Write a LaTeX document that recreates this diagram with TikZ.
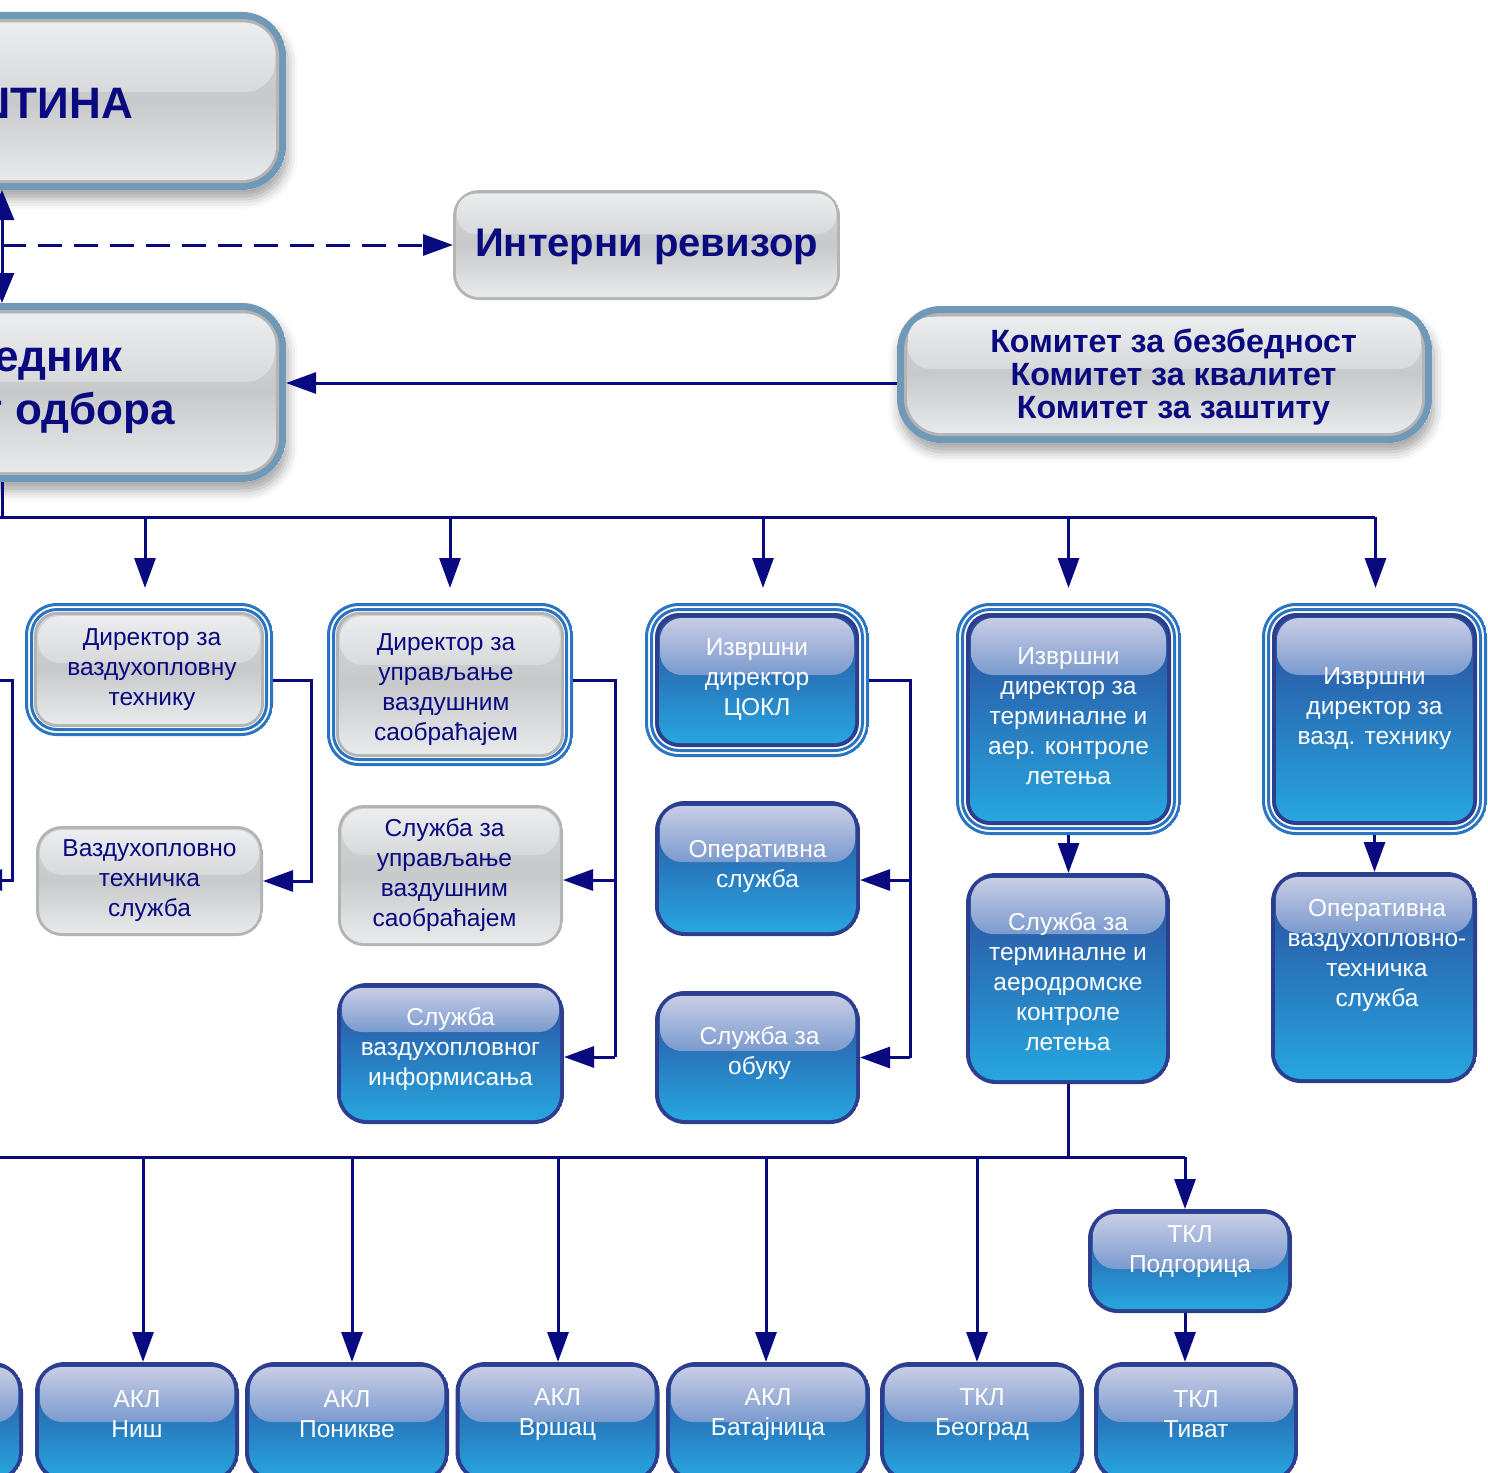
\documentclass[tikz,border=0pt]{standalone}
\usepackage{fontspec}
\setmainfont{Liberation Sans}
\usetikzlibrary{arrows.meta,calc,shadows.blur}

\definecolor{ink}{HTML}{0A0A80}
\definecolor{steel}{HTML}{7099B7}
\definecolor{dbl}{HTML}{2A74C2}
\definecolor{bbord}{HTML}{2D3E8F}
\definecolor{btop}{HTML}{2A4C9C}
\definecolor{bbot}{HTML}{27A6DF}
\definecolor{bhltop}{HTML}{C8CDE5}
\definecolor{bhlbot}{HTML}{7A9ACE}
\definecolor{gtop}{HTML}{D2D3D5}
\definecolor{gmid}{HTML}{C8C9CB}
\definecolor{gbot}{HTML}{E9EAEB}
\definecolor{ghltop}{HTML}{ECEDEE}
\definecolor{ghlbot}{HTML}{D8D9DB}
\definecolor{gbord}{HTML}{B3B4B6}

\newcommand\FtSmall{\fontsize{24.5pt}{30pt}\selectfont}
\newcommand\FtBig{\fontsize{44pt}{53pt}\selectfont\bfseries}
\newcommand\FtRev{\fontsize{40pt}{48pt}\selectfont\bfseries}
\newcommand\FtKom{\fontsize{32.2pt}{33pt}\selectfont\bfseries}

\def\hlh{55}
\def\hlr{22pt}
\newcommand\RR[3]{\path[rounded corners=#2pt,#3]
  ([xshift=#1pt,yshift=-#1pt]path picture bounding box.north west) rectangle
  ([xshift=-#1pt,yshift=#1pt]path picture bounding box.south east);}
\newcommand\HL[2]{\path[rounded corners=\hlr,#2]
  ([xshift=#1pt,yshift=-#1pt]path picture bounding box.north west) rectangle
  ([xshift=-#1pt,yshift={-(#1+\hlh)*1pt}]path picture bounding box.north east);}

\tikzset{
  hl/.code={\def\hlh{#1}},
  hlr/.code={\def\hlr{#1pt}},
  bshade/.style={top color=btop,bottom color=bbot},
  bhl/.style={top color=bhltop,bottom color=bhlbot},
  gshade/.style={top color=gtop,bottom color=gbot,middle color=gmid},
  ghl/.style={top color=ghltop,bottom color=ghlbot},
  basebox/.style={rectangle, inner sep=0pt, outer sep=0pt, fill=white},
  bbox/.style={basebox, rounded corners=30pt,
    path picture={\RR{0}{30}{fill=bbord}\RR{4}{26}{bshade}\HL{5}{bhl}}},
  b2box/.style={basebox, rounded corners=34pt,
    path picture={\RR{1.5}{32.5}{draw=dbl,line width=3pt}\RR{6.5}{27.5}{draw=dbl,line width=3pt}%
      \RR{10}{24}{fill=bbord}\RR{14}{20}{bshade}\HL{15}{bhl}}},
  gbox/.style={basebox, rounded corners=26pt,
    path picture={\RR{0}{26}{fill=gbord}\RR{3}{23}{gshade}\HL{4}{ghl}}},
  g2box/.style={basebox, rounded corners=32pt,
    path picture={\RR{1.5}{30.5}{draw=dbl,line width=3pt}\RR{6.5}{25.5}{draw=dbl,line width=3pt}%
      \RR{9}{23}{fill=gbord}\RR{12}{20}{gshade}\HL{13}{ghl}}},
  sbox/.style={basebox, rounded corners=44pt,
    path picture={\RR{0}{44}{fill=steel}\RR{7}{37}{fill=gbord}\RR{10}{34}{gshade}\HL{11}{ghl}}},
  shadowed/.style={blur shadow={shadow xshift=2pt, shadow yshift=-9pt, shadow blur radius=10pt, shadow opacity=35}},
  line/.style={draw=ink, line width=3pt},
  arr/.style={line, -{Triangle[length=30pt,width=21pt]}},
  wt/.style={text=white, align=center, inner sep=0pt, font=\FtSmall},
  nt/.style={text=ink, align=center, inner sep=0pt, font=\FtSmall},
  bigt/.style={text=ink, inner sep=0pt, font=\FtBig},
}

\begin{document}
\begin{tikzpicture}[x=1pt,y=-1pt]
\useasboundingbox (0,0) rectangle (1488,1472);
\clip (0,0) rectangle (1488,1472);

% ---- top level boxes
\node[sbox, shadowed, hl=69, hlr=30, minimum width=568pt, minimum height=178pt] (sk) at (2,101) {};
\node[bigt, anchor=base east] (skt) at (133,118) {ШТИНА};
\node[sbox, shadowed, hl=68, hlr=30, minimum width=568pt, minimum height=179pt] (pred) at (2,392.5) {};
\node[bigt, anchor=base east] (pred1) at (122.5,371) {едник};
\node[bigt, anchor=base east] (pred2) at (175,424) {г одбора};
\node[gbox, hl=40, hlr=18, minimum width=387pt, minimum height=110pt] (int) at (646.5,245) {};
\node[text=ink, inner sep=0pt, font=\FtRev] (intt) at ([yshift=-2pt]int.center) {Интерни ревизор};
\node[sbox, shadowed, hl=52, minimum width=535pt, minimum height=137pt] (kom) at (1164.5,374.5) {};
\node[text=ink, align=center, inner sep=0pt, font=\FtKom] (komt) at ([xshift=9pt,yshift=-3pt]kom.center)
  {Комитет за безбедност\\Комитет за квалитет\\Комитет за заштиту};

% ---- directors
\node[g2box, hl=47, minimum width=248pt, minimum height=133pt] (d1) at (149,669.5) {};
\node[nt] (d1t) at ([xshift=3pt]d1.center) {Директор за\\ваздухопловну\\технику};
\node[g2box, hl=49, minimum width=246pt, minimum height=163pt] (d2) at (450,684.5) {};
\node[nt] (d2t) at ([xshift=-4pt,yshift=-5.5pt]d2.center) {Директор за\\управљање\\ваздушним\\саобраћајем};
\node[b2box, hl=57, minimum width=224pt, minimum height=154pt] (d3) at (757,680) {};
\node[wt] (d3t) at (d3.center) {Извршни\\директор\\ЦОКЛ};
\node[b2box, hl=57, minimum width=225pt, minimum height=232pt] (d4) at (1068.5,719) {};
\node[wt] (d4t) at ([yshift=3pt]d4.center) {Извршни\\директор за\\терминалне и\\аер. контроле\\летења};
\node[b2box, hl=57, minimum width=225pt, minimum height=232pt] (d5) at (1374.5,719) {};
\node[wt] (d5t) at ([yshift=10pt]d5.center) {Извршни\\директор за\\вазд. технику};

% ---- services
\node[gbox, hl=45, minimum width=227pt, minimum height=110pt] (s1) at (149.5,881) {};
\node[nt] (s1t) at (s1.center) {Ваздухопловно\\техничка\\служба};
\node[gbox, hl=46, minimum width=225pt, minimum height=141pt] (s2a) at (450.5,875.5) {};
\node[nt] (s2at) at ([xshift=-6pt]s2a.center) {Служба за\\управљање\\ваздушним\\саобраћајем};
\node[bbox, hl=44, hlr=20, minimum width=227pt, minimum height=141pt] (s2b) at (450.5,1053.5) {};
\node[wt] (s2bt) at ([yshift=4.5pt]s2b.center) {Служба\\ваздухопловног\\информисања};
\node[bbox, hl=56, minimum width=205pt, minimum height=135pt] (s3a) at (757.5,868.5) {};
\node[wt] (s3at) at ([yshift=2.5pt]s3a.center) {Оперативна\\служба};
\node[bbox, hl=55, minimum width=205pt, minimum height=133pt] (s3b) at (757.5,1057.5) {};
\node[wt] (s3bt) at ([xshift=2pt,yshift=4pt]s3b.center) {Служба за\\обуку};
\node[bbox, hl=56, minimum width=204pt, minimum height=211pt] (s4) at (1068,978.5) {};
\node[wt] (s4t) at ([yshift=-3pt]s4.center) {Служба за\\терминалне и\\аеродромске\\контроле\\летења};
\node[bbox, hl=56, minimum width=206pt, minimum height=211pt] (s5) at (1374,977.5) {};
\node[wt] (s5t) at ([xshift=3pt,yshift=22pt]s5.center) {Оперативна\\ваздухопловно-\\техничка\\служба};

% ---- local units
\node[bbox, hl=55, minimum width=204pt, minimum height=104pt] (pod) at (1190,1261) {};
\node[wt] (podt) at ([yshift=9pt]pod.center) {ТКЛ\\Подгорица};
\foreach \n/\x/\t in {b0/-79/{},b1/137/{АКЛ\\Ниш},b2/347/{АКЛ\\Поникве},b3/557.5/{АКЛ\\Вршац},
    b4/768/{АКЛ\\Батајница},b5/982/{ТКЛ\\Београд},b6/1196/{ТКЛ\\Тиват}}{
  \node[bbox, hl=55, minimum width=204pt, minimum height=120pt] (\n) at (\x,1422) {};
  \node[wt] (\n-t) at ([yshift=7.5pt]\n.center) {\t};
}

% ---- connectors, top
\draw[line, {Triangle[length=30pt,width=24pt]}-{Triangle[length=30pt,width=24pt]}] (sk.south) -- (pred.north);
\draw[arr, dash pattern=on 24pt off 12pt] (int.west -| sk.south) -- (int.west);
\draw[arr] ([yshift=-8.5pt]kom.west) -- ([yshift=-8.5pt]kom.west -| pred.east);

\coordinate (bus1L) at (-10,517);
\draw[line] (pred.south) -- (pred.south |- bus1L);
\draw[line] (bus1L) -- (bus1L -| d5.north);
\foreach \n/\dx in {d1/-4,d2/0,d3/6,d4/0,d5/1}{
  \coordinate (\n-in) at ([xshift=\dx pt]\n.north);
  \draw[arr, shorten >=15pt] (\n-in |- bus1L) -- (\n-in);
}

% ---- column connectors
\coordinate (x0a) at (-40,680);
\coordinate (x0b) at (12,880);
\coordinate (x0c) at (-28,880);
\draw[arr] (x0a) -| (x0b) -- (x0c);

\draw[arr] ([yshift=-10.5pt]d1.east) -| ([xshift=48pt]s1.east) -- (s1.east);

\draw[line] ([yshift=4.5pt]d2.east) -| ([xshift=51pt,yshift=-3.5pt]s2b.east);
\draw[arr] ([xshift=52pt,yshift=-4.5pt]s2a.east) -- ([yshift=-4.5pt]s2a.east);
\draw[arr] ([xshift=51pt,yshift=-3.5pt]s2b.east) -- ([yshift=-3.5pt]s2b.east);

\draw[line] (d3.east) -| ([xshift=50pt]s3b.east);
\draw[arr] ([xshift=50pt,yshift=-11.5pt]s3a.east) -- ([yshift=-11.5pt]s3a.east);
\draw[arr] ([xshift=50pt]s3b.east) -- (s3b.east);

\draw[arr] (d4.south) -- (d4.south |- s4.north);
\draw[arr] (d5.south) -- (d5.south |- s5.north);

% ---- bottom bus
\coordinate (bus2L) at (-120,1157);
\coordinate (pod-in) at ([xshift=-5pt]pod.north);
\coordinate (pod-out) at ([xshift=-5pt]pod.south);
\draw[line] (s4.south) -- (s4.south |- bus2L);
\draw[line] (bus2L) -- (bus2L -| pod-in);
\foreach \n/\dx in {b0/0,b1/6,b2/5,b3/0.5,b4/-2,b5/-5}{
  \coordinate (\n-in) at ([xshift=\dx pt]\n.north);
  \draw[arr] (\n-in |- bus2L) -- (\n-in);
}
\draw[arr] (pod-in |- bus2L) -- (pod-in);
\draw[arr] (pod-out) -- (pod-out |- b6.north);
\end{tikzpicture}
\end{document}
